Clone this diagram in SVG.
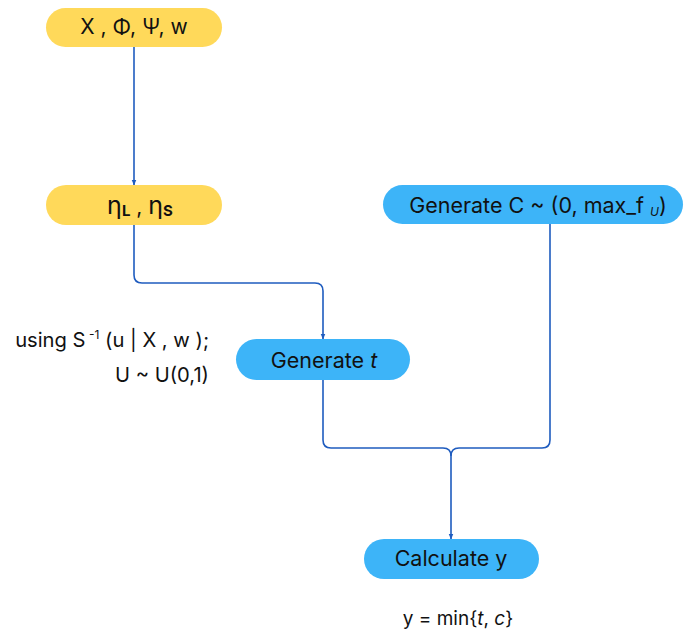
<svg xmlns="http://www.w3.org/2000/svg" width="685" height="635" viewBox="0 0 685 635">
<defs>
<marker id="arr" viewBox="0 0 10 10" refX="9" refY="5" markerWidth="6" markerHeight="6" orient="auto" markerUnits="userSpaceOnUse"><path d="M0,1 L10,5 L0,9 z" fill="#1f5cbf"/></marker>
<style>
.y{fill:#ffd95a}
.b{fill:#3db4f8}
.t{font-family:Inter,"Liberation Sans",sans-serif;font-size:21.5px;fill:#111;text-anchor:middle}
.l{font-family:Inter,"Liberation Sans",sans-serif;font-size:20.2px;fill:#111;text-anchor:end}
.c{fill:none;stroke:#1f5cbf;stroke-width:1.6}
</style>
</defs>
<rect width="685" height="635" fill="#fff"/>
<g id="connectors">
<path class="c" d="M134,47 V185" marker-end="url(#arr)"/>
<path class="c" d="M134,225 V275 Q134,283 142,283 H315 Q323,283 323,291 V339" marker-end="url(#arr)"/>
<path class="c" d="M323,380 V440 Q323,448 331,448 H443 Q451,448 451,456 V539" marker-end="url(#arr)"/>
<path class="c" d="M550,224 V440 Q550,448 542,448 H459 Q451,448 451,456"/>
</g>
<g id="n1"><rect class="y" x="46" y="8" width="176" height="39" rx="19.5"/><text class="t" x="134" y="34" style="font-size:21px">X , Φ, Ψ, w</text></g>
<g id="n2"><rect class="y" x="46" y="185" width="176" height="40" rx="20"/><text class="t" x="140" y="214" style="font-size:25px">η<tspan font-size="15" font-weight="bold" dy="2">L</tspan><tspan dy="-2" font-size="21">  , </tspan><tspan>η</tspan><tspan font-size="15" font-weight="bold" dy="2">S</tspan></text></g>
<g id="n3"><rect class="b" x="383" y="185" width="300" height="39" rx="19.5"/><text class="t" x="538" y="213">Generate  C ~ (0, max_f <tspan font-size="12" font-style="italic" dy="3">U</tspan><tspan dy="-3">)</tspan></text></g>
<g id="n4"><rect class="b" x="236" y="339" width="174" height="41" rx="20.5"/><text class="t" x="324" y="368">Generate <tspan font-style="italic">t</tspan></text></g>
<g id="n5"><rect class="b" x="364" y="539" width="175" height="40" rx="20"/><text class="t" x="451" y="566">Calculate y</text></g>
<g id="note1"><text class="l" x="209" y="347">using S<tspan font-size="12" dy="-8"> -1</tspan><tspan dy="8"> (u | X , w );</tspan></text><text class="l" x="209" y="382">U ~ U(0,1)</text></g>
<g id="note2"><text class="t" x="458" y="625" style="font-size:19px">y = min{<tspan font-style="italic">t</tspan>, <tspan font-style="italic">c</tspan>}</text></g>
</svg>
